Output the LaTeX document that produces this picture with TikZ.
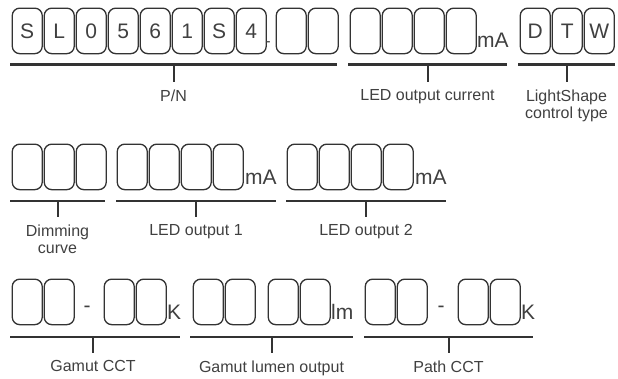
\documentclass[tikz,border=0pt]{standalone}
\usepackage{fontspec}
\setmainfont{Liberation Sans}
\definecolor{ink}{HTML}{333333}
\definecolor{txt}{HTML}{404040}
\tikzset{
  cbox/.style={draw=ink, line width=1.3pt, rounded corners=7.5pt, minimum width=30pt, minimum height=45.5pt, inner sep=0pt, anchor=north west, text=txt, font=\fontsize{21}{24}\selectfont},
  unit/.style={anchor=base west, inner sep=0pt, text=txt, font=\fontsize{21}{24}\selectfont},
  bigdash/.style={anchor=base, inner sep=0pt, text=txt, font=\fontsize{21}{24}\selectfont},
  smalldash/.style={anchor=base, inner sep=0pt, text=txt, font=\fontsize{16}{18}\selectfont},
  bar/.style={draw=ink, line width=2.6pt},
  tickline/.style={draw=ink, line width=2pt},
  lbl/.style={anchor=north, inner sep=0pt, text=txt, align=center, font=\fontsize{16}{17.5}\selectfont},
}
\begin{document}
\begin{tikzpicture}[x=1pt,y=-1pt]
\useasboundingbox (0,0) rectangle (618,378);
% ---------- Row 1 ----------
\foreach \t [count=\i from 0] in {S,L,0,5,6,1,S,4}
  \node[cbox] (pn\i) at ({11.6+32*\i},7.5) {\t};
\node[smalldash] (pnd) at (268,46.5) {-};
\node[cbox] (pn8) at (275.6,7.5) {};
\node[cbox] (pn9) at (307.6,7.5) {};
\foreach \i in {0,...,3}
  \node[cbox] (oc\i) at ({349.6+32*\i},7.5) {};
\node[unit] (ocu) at (477,47) {mA};
\node[cbox] (ct0) at (519.6,7.5) {D};
\node[cbox] (ct1) at (551.6,7.5) {T};
\node[cbox] (ct2) at (583.6,7.5) {W};
% bars row 1
\coordinate (pnL) at (10,64.5);  \coordinate (pnR) at (337,64.5);
\coordinate (ocL) at (348,64.5); \coordinate (ocR) at (507,64.5);
\coordinate (ctL) at (518,64.5); \coordinate (ctR) at (615,64.5);
\draw[bar] (pnL) -- (pnR);
\draw[bar] (ocL) -- (ocR);
\draw[bar] (ctL) -- (ctR);
\coordinate (pnT) at (173.5,64.5); \coordinate (pnE) at (173.5,82);
\coordinate (ocT) at (427.5,64.5); \coordinate (ocE) at (427.5,82);
\coordinate (ctT) at (566.5,64.5); \coordinate (ctE) at (566.5,82);
\draw[tickline] (pnT) -- (pnE);
\draw[tickline] (ocT) -- (ocE);
\draw[tickline] (ctT) -- (ctE);
\node[lbl] (pnlab) at (173.5,89.5) {P/N};
\node[lbl] (oclab) at (427.5,89.5) {LED output current};
\node[lbl] (ctlab) at (566.5,89.5) {LightShape\\control type};
% ---------- Row 2 ----------
\foreach \i in {0,...,2}
  \node[cbox] (dc\i) at ({11.6+32*\i},143.5) {};
\foreach \i in {0,...,3}
  \node[cbox] (oa\i) at ({116.6+32*\i},143.5) {};
\node[unit] (oau) at (245,184) {mA};
\foreach \i in {0,...,3}
  \node[cbox] (ob\i) at ({286.6+32*\i},143.5) {};
\node[unit] (obu) at (415,184) {mA};
\coordinate (dcL) at (10,201);  \coordinate (dcR) at (105,201);
\coordinate (oaL) at (116,201); \coordinate (oaR) at (276,201);
\coordinate (obL) at (286,201); \coordinate (obR) at (446,201);
\draw[bar] (dcL) -- (dcR);
\draw[bar] (oaL) -- (oaR);
\draw[bar] (obL) -- (obR);
\coordinate (dcT) at (57.5,201); \coordinate (dcE) at (57.5,217);
\coordinate (oaT) at (196,201);  \coordinate (oaE) at (196,217);
\coordinate (obT) at (366,201);  \coordinate (obE) at (366,217);
\draw[tickline] (dcT) -- (dcE);
\draw[tickline] (oaT) -- (oaE);
\draw[tickline] (obT) -- (obE);
\node[lbl] (dclab) at (57.5,224.5) {Dimming\\curve};
\node[lbl] (oalab) at (196,224.5) {LED output 1};
\node[lbl] (oblab) at (366,224.5) {LED output 2};
% ---------- Row 3 ----------
\node[cbox] (ga0) at (11.6,278.5) {};
\node[cbox] (ga1) at (43.6,278.5) {};
\node[bigdash] (gad) at (87,312) {-};
\node[cbox] (ga2) at (103.6,278.5) {};
\node[cbox] (ga3) at (135.6,278.5) {};
\node[unit] (gau) at (167,319) {K};
\node[cbox] (gl0) at (192.6,278.5) {};
\node[cbox] (gl1) at (224.6,278.5) {};
\node[cbox] (gl2) at (267.6,278.5) {};
\node[cbox] (gl3) at (299.6,278.5) {};
\node[unit] (glu) at (331,319) {lm};
\node[cbox] (pc0) at (364.6,278.5) {};
\node[cbox] (pc1) at (396.6,278.5) {};
\node[bigdash] (pcd) at (441,312) {-};
\node[cbox] (pc2) at (457.6,278.5) {};
\node[cbox] (pc3) at (489.6,278.5) {};
\node[unit] (pcu) at (521,319) {K};
\coordinate (gaL) at (10,337);  \coordinate (gaR) at (180,337);
\coordinate (glL) at (190,337); \coordinate (glR) at (353,337);
\coordinate (pcL) at (364,337); \coordinate (pcR) at (533,337);
\draw[bar] (gaL) -- (gaR);
\draw[bar] (glL) -- (glR);
\draw[bar] (pcL) -- (pcR);
\coordinate (gaT) at (93,337);    \coordinate (gaE) at (93,353);
\coordinate (glT) at (271.5,337); \coordinate (glE) at (271.5,353);
\coordinate (pcT) at (448.5,337); \coordinate (pcE) at (448.5,353);
\draw[tickline] (gaT) -- (gaE);
\draw[tickline] (glT) -- (glE);
\draw[tickline] (pcT) -- (pcE);
\node[lbl] (galab) at (93,360.5) {Gamut CCT};
\node[lbl] (gllab) at (271.5,360.5) {Gamut lumen output};
\node[lbl] (pclab) at (448.5,360.5) {Path CCT};
\end{tikzpicture}
\end{document}
